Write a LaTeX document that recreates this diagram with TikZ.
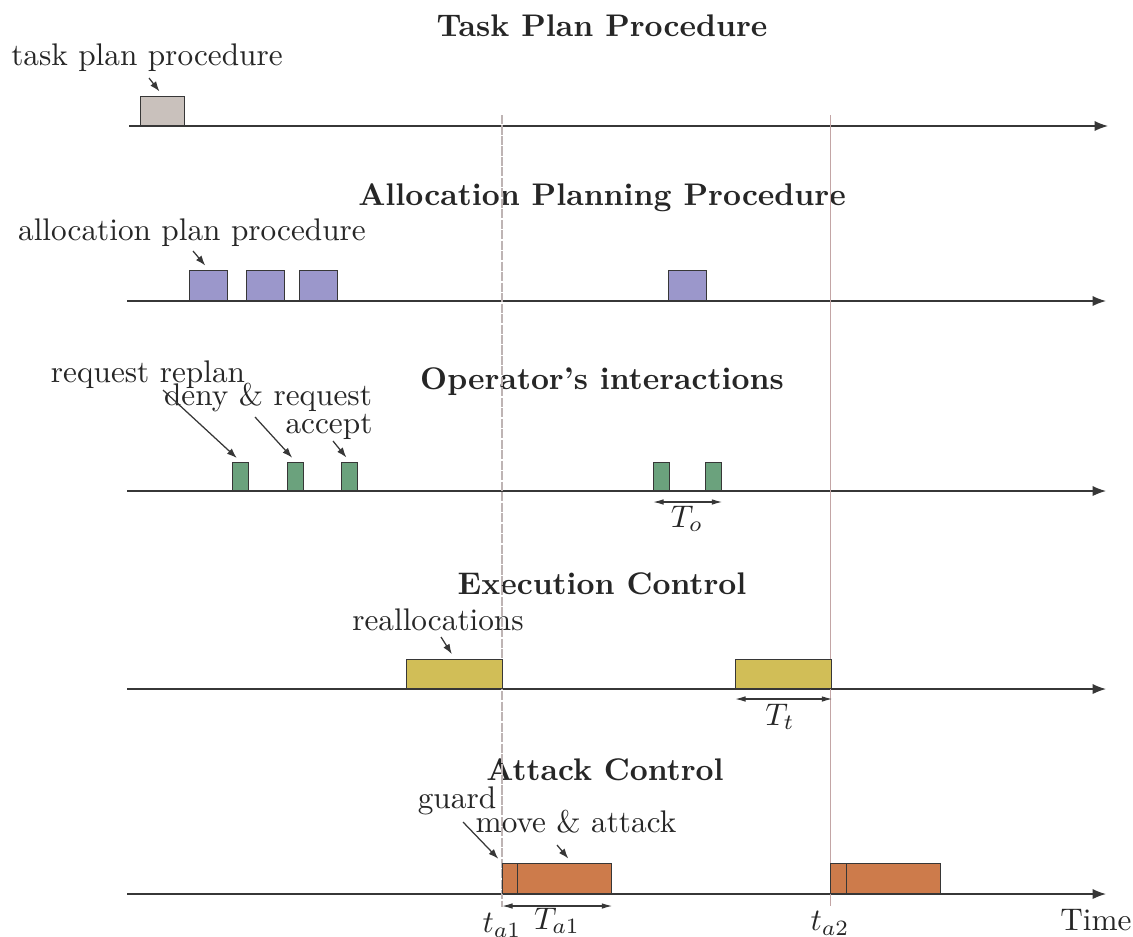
\documentclass[tikz,border=0pt]{standalone}
\usetikzlibrary{arrows.meta}
\definecolor{planbox}{RGB}{201,193,188}
\definecolor{allocbox}{RGB}{155,151,203}
\definecolor{operbox}{RGB}{107,162,125}
\definecolor{execbox}{RGB}{209,190,87}
\definecolor{atkbox}{RGB}{205,123,75}
\definecolor{inkgray}{RGB}{55,55,55}
\definecolor{markgray}{RGB}{190,180,180}
\definecolor{markred}{RGB}{195,165,165}
\def\px{0.1124mm}

\begin{document}
\begin{tikzpicture}[x=\px, y=-\px,
    every node/.style={text=black!85, inner sep=0pt},
    heading/.style={font=\bfseries, anchor=base},
    note/.style={anchor=base},
    slot/.style={draw=inkgray, line width=0.45pt, minimum height=29*\px, anchor=south west},
    timeline/.style={draw=inkgray, line width=0.45pt, -{Latex[length=4.3pt, width=3.3pt]}},
    pointer/.style={draw=inkgray, line width=0.4pt, -{Latex[length=3.2pt, width=2.3pt]}, shorten >=1.7pt},
    span/.style={draw=inkgray, line width=0.4pt, {Latex[length=3.4pt, width=1.8pt]}-{Latex[length=3.4pt, width=1.8pt]}}]

    \useasboundingbox (0,0) rectangle (1133,936);

    \coordinate (s1) at (129,126);  \coordinate (e1) at (1108,126);
    \coordinate (s2) at (127,301);  \coordinate (e2) at (1106,301);
    \coordinate (s3) at (127,491);  \coordinate (e3) at (1106,491);
    \coordinate (s4) at (127,689);  \coordinate (e4) at (1106,689);
    \coordinate (s5) at (127,894);  \coordinate (e5) at (1106,894);

    \draw[timeline] (s1) -- (e1);
    \draw[timeline] (s2) -- (e2);
    \draw[timeline] (s3) -- (e3);
    \draw[timeline] (s4) -- (e4);
    \draw[timeline] (s5) -- (e5);

    \node[heading] at (602,36) (htask) {Task Plan Procedure};
    \node[heading] at (602,205) (halloc) {Allocation Planning Procedure};
    \node[heading] at (602,389) (hoper) {Operator's interactions};
    \node[heading] at (602,594) (hexec) {Execution Control};
    \node[heading] at (605,780) (hatk) {Attack Control};

    \node at (502,913) [anchor=north] (ta1) {$t_{a1}$};
    \node at (830,911) [anchor=north] (ta2) {$t_{a2}$};
    \node[note] at (1096,930) (time) {Time};

    \coordinate (v1) at (502,115);
    \coordinate (v2) at (830,115);
    \draw[markgray, line width=0.45pt, dash pattern=on 2.9pt off 0.45pt, shorten >=2pt] (v1) -- (ta1.north);
    \draw[markred, line width=0.25pt, shorten >=1.5pt] (v2) -- (ta2.north);

    \node[slot, fill=planbox, minimum width=44*\px] at (140,126) (t1) {};

    \node[slot, fill=allocbox, minimum width=38*\px, minimum height=30*\px] at (189,301) (p1) {};
    \node[slot, fill=allocbox, minimum width=38*\px, minimum height=30*\px] at (246,301) (p2) {};
    \node[slot, fill=allocbox, minimum width=38*\px, minimum height=30*\px] at (299,301) (p3) {};
    \node[slot, fill=allocbox, minimum width=38*\px, minimum height=30*\px] at (668,301) (p4) {};

    \node[slot, fill=operbox, minimum width=16*\px, minimum height=28*\px] at (232,491) (o1) {};
    \node[slot, fill=operbox, minimum width=16*\px, minimum height=28*\px] at (287,491) (o2) {};
    \node[slot, fill=operbox, minimum width=16*\px, minimum height=28*\px] at (341,491) (o3) {};
    \node[slot, fill=operbox, minimum width=16*\px, minimum height=28*\px] at (653,491) (o4) {};
    \node[slot, fill=operbox, minimum width=16*\px, minimum height=28*\px] at (705,491) (o5) {};

    \node[slot, fill=execbox, minimum width=96*\px] at (406,689) (x1) {};
    \node[slot, fill=execbox, minimum width=96*\px] at (735,689) (x2) {};

    \node[slot, fill=atkbox, minimum width=15*\px, minimum height=30*\px] at (502,894) (g1) {};
    \node[slot, fill=atkbox, minimum width=94*\px, minimum height=30*\px] at (517,894) (m1) {};
    \node[slot, fill=atkbox, minimum width=16*\px, minimum height=30*\px] at (830,894) (g2) {};
    \node[slot, fill=atkbox, minimum width=94*\px, minimum height=30*\px] at (846,894) (m2) {};

    \node[note] at (147,65) (ntask) {task plan procedure};
    \node[note] at (192,240) (nalloc) {allocation plan procedure};
    \node[note] at (148,382) (nreq) {request replan};
    \node[note] at (268,405) (ndeny) {deny \& request};
    \node[note] at (329,433) (nacc) {accept};
    \node[note] at (438,630) (nrealloc) {reallocations};
    \node[note] at (457,808) (nguard) {guard};
    \node[note] at (576,832) (nmove) {move \& attack};

    \coordinate (ctask) at (149,78);
    \coordinate (calloc) at (193,251);
    \coordinate (creq) at (163,390);
    \coordinate (cdeny) at (255,417);
    \coordinate (cacc) at (333,441);
    \coordinate (crealloc) at (441,637);
    \coordinate (cguard) at (463,822);
    \coordinate (cmove) at (557,845);

    \draw (ctask) edge[pointer] (t1.north);
    \draw (calloc) edge[pointer] (p1.north);
    \draw (creq) edge[pointer] (o1.north);
    \draw (cdeny) edge[pointer] (o2.north);
    \draw (cacc) edge[pointer] (o3.north);
    \draw (crealloc) edge[pointer] (x1.north);
    \draw (cguard) edge[pointer] (g1.north west);
    \draw (cmove) edge[pointer] ([xshift=7*\px]m1.north);

    \draw[span] ([yshift=-11*\px]o4.south west) -- ([yshift=-11*\px]o5.south east);
    \node at (687,505) [anchor=north] (lto) {$T_o$};

    \draw[span] ([yshift=-10*\px]x2.south west) -- ([yshift=-10*\px]x2.south east);
    \node at (780,703) [anchor=north] (ltt) {$T_t$};

    \draw[span] ([yshift=-12*\px]g1.south west) -- ([yshift=-12*\px]m1.south east);
    \node at (557,907) [anchor=north] (lta) {$T_{a1}$};

\end{tikzpicture}
\end{document}
